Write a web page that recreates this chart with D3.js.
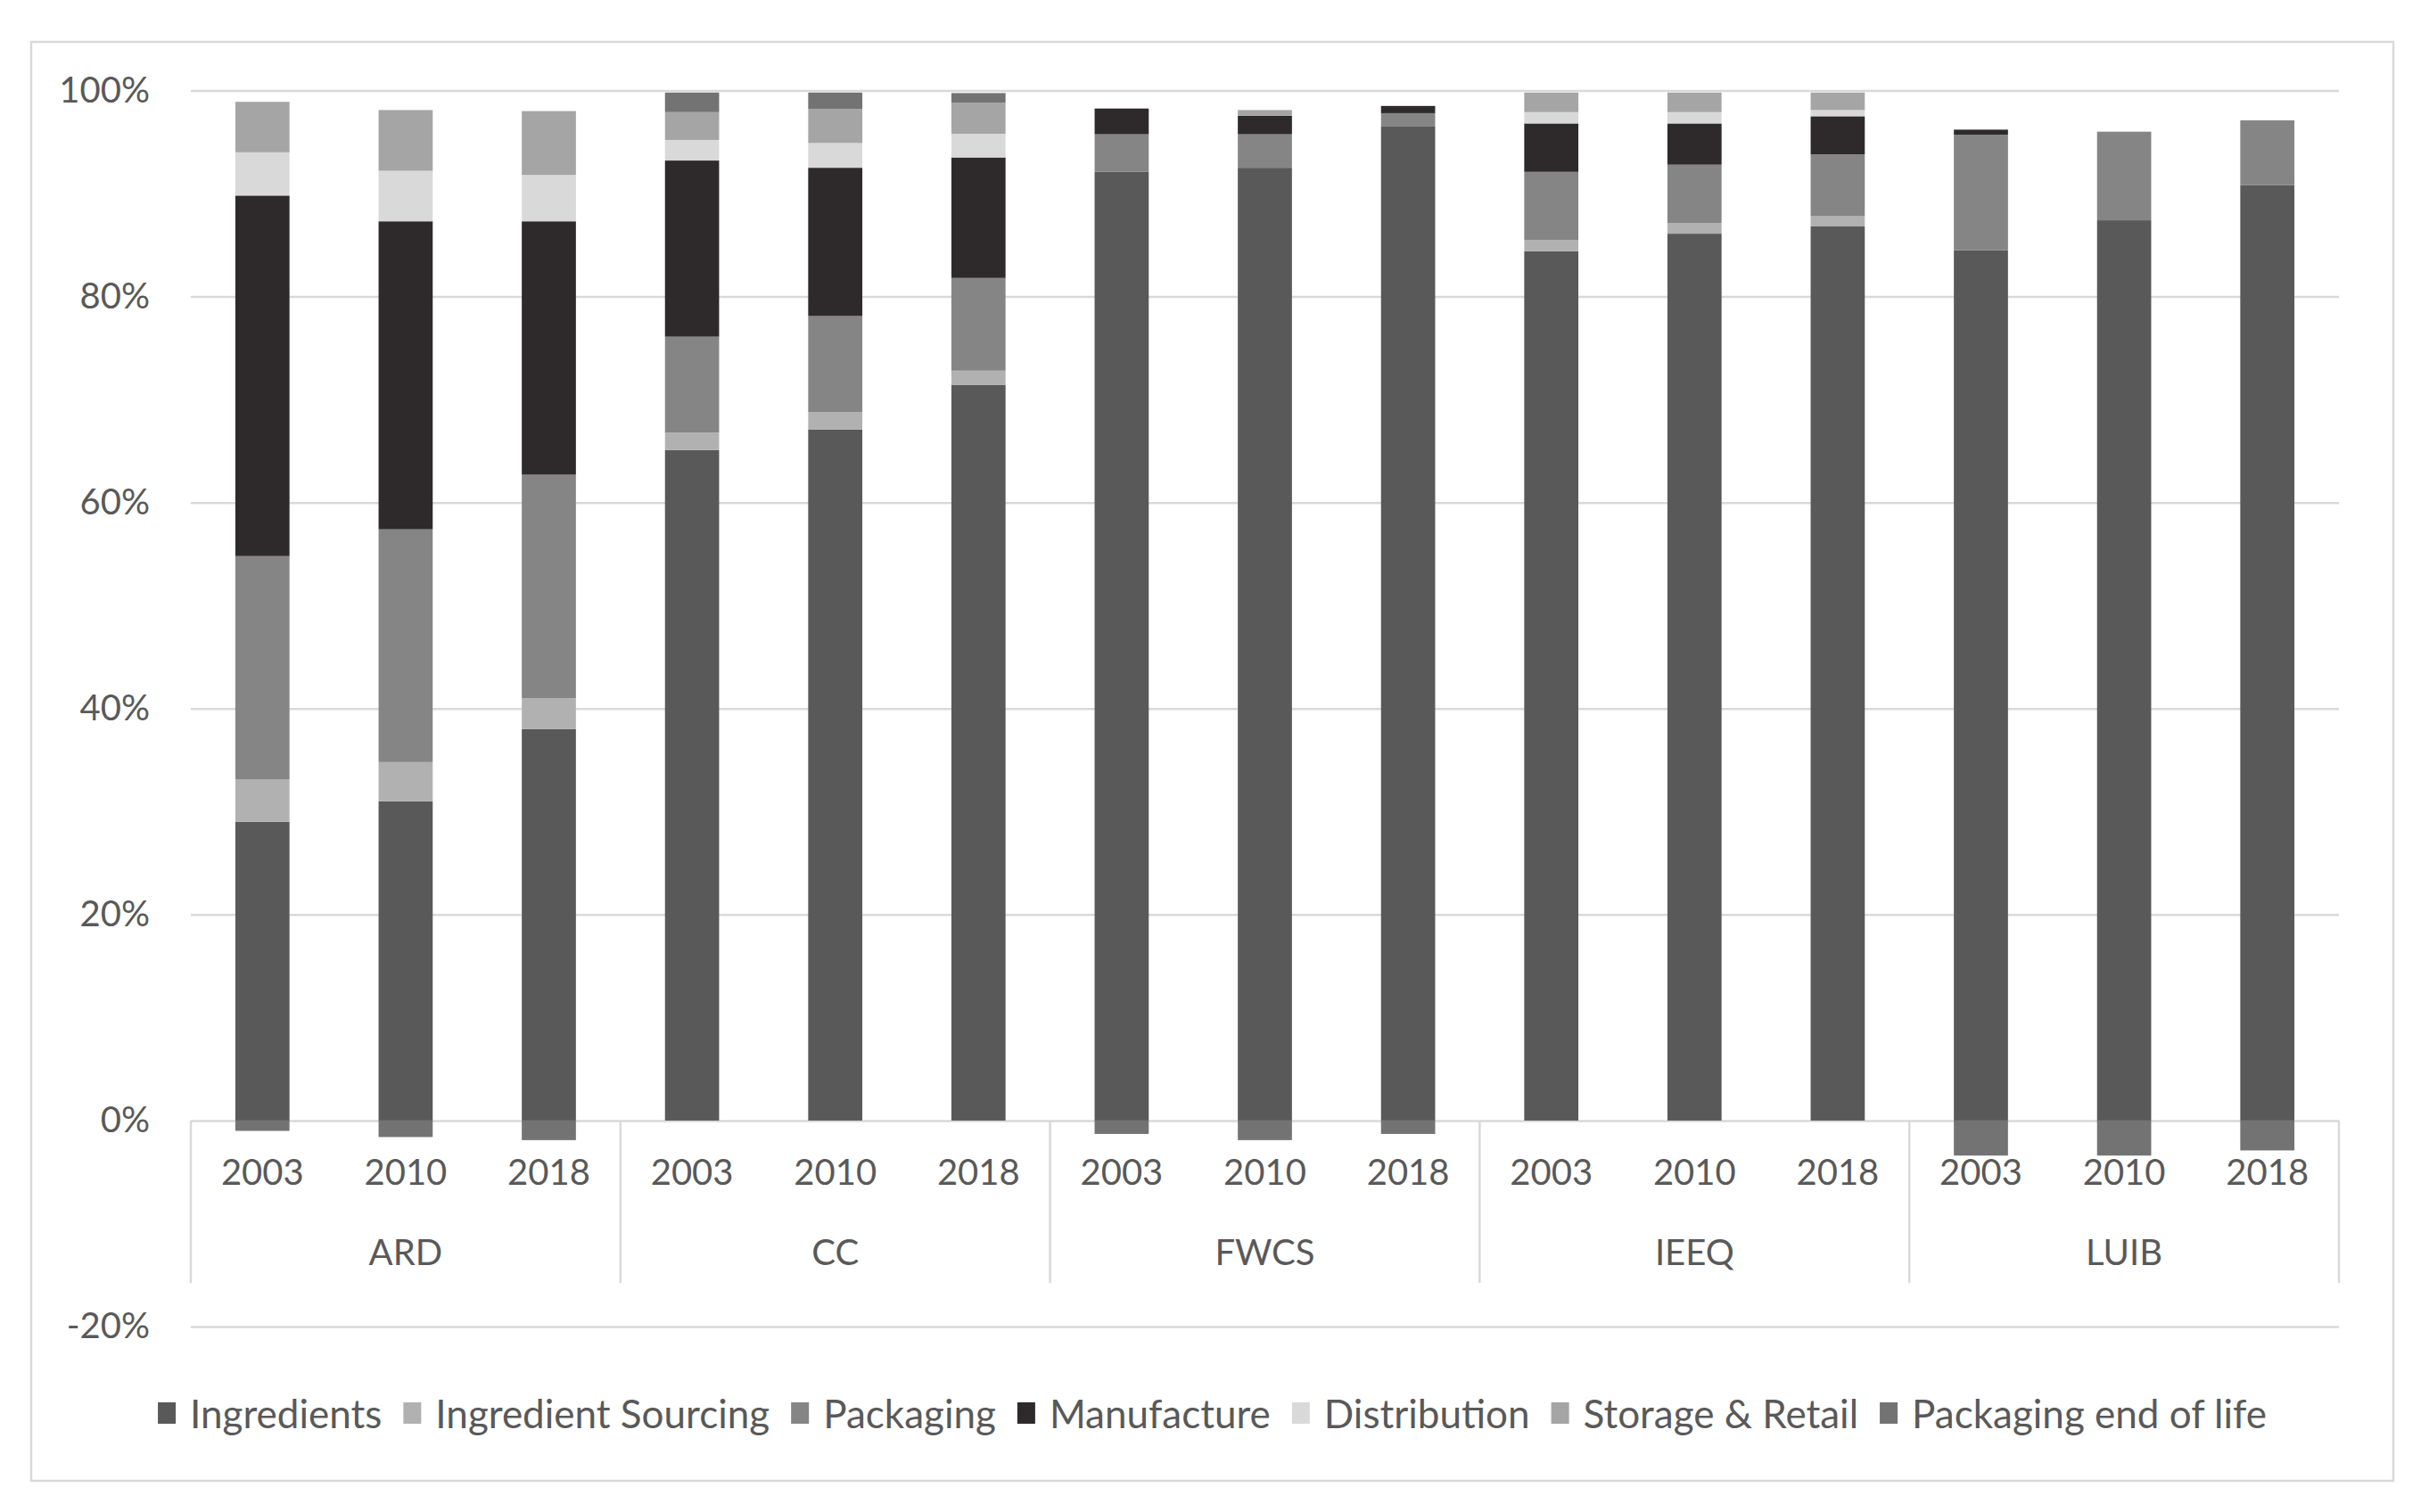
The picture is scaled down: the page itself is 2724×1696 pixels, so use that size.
<!DOCTYPE html>
<html>
<head>
<meta charset="utf-8">
<script src="https://cdn.jsdelivr.net/npm/d3@7"></script>
<style>
  html, body { margin: 0; padding: 0; background: #fff; }
  svg { display: block; }
  text { font-family: Lato, "Open Sans", sans-serif; fill: #595959; }
</style>
</head>
<body>
<div id="chart"></div>
<script>
// ── data (share of impact, %) ─────────────────────────────────────────────
const groups = ["ARD", "CC", "FWCS", "IEEQ", "LUIB"];
const years  = ["2003", "2010", "2018"];
const seriesNames = ["Ingredients", "Ingredient Sourcing", "Packaging", "Manufacture",
                     "Distribution", "Storage & Retail", "Packaging end of life"];

// one value per bar: ARD 03/10/18, CC 03/10/18, FWCS ..., IEEQ ..., LUIB ...
const ingredients        = [29.0, 31.0, 38.0, 65.1, 67.1, 71.4, 92.1, 92.5, 96.5, 84.4, 86.1, 86.8, 84.5, 87.4, 90.8];
const ingredientSourcing = [ 4.1,  3.8,  3.0,  1.7,  1.7,  1.4,  0,    0,    0,    1.1,  1.05, 1.0,  0,    0,    0  ];
const packaging          = [21.7, 22.6, 21.7,  9.3,  9.3,  9.0,  3.65, 3.25, 1.3,  6.6,  5.65, 6.0, 11.2,  8.6,  6.3];
const manufacture        = [35.0, 29.9, 24.6, 17.1, 14.4, 11.7,  2.5,  1.8,  0.7,  4.7,  4.0,  3.7,  0.5,  0,    0  ];
const distribution       = [ 4.2,  4.9,  4.5,  2.0,  2.4,  2.3,  0,    0,    0,    1.1,  1.1,  0.6,  0,    0,    0  ];
const storageRetail      = [ 4.9,  5.9,  6.2,  2.7,  3.3,  3.0,  0,    0.55, 0,    1.9,  1.9,  1.7,  0,    0,    0  ];
const packagingEol       = [-1.0, -1.6, -1.9,  1.9,  1.6,  0.95,-1.3, -1.9, -1.3,  0,    0,    0,   -3.4, -3.4, -2.9];

const yTicks = [-20, 0, 20, 40, 60, 80, 100];

const seriesValues = [ingredients, ingredientSourcing, packaging, manufacture,
                      distribution, storageRetail, packagingEol];
const colors = ["#595959", "#b1b1b1", "#858585", "#2e2a2b", "#d9d9d9", "#a5a5a5", "#737373"];

// ── build rows for the stack ──────────────────────────────────────────────
const rows = [];
groups.forEach((g, gi) => {
  years.forEach((yr, yi) => {
    const i = gi * years.length + yi;
    const row = { key: g + "-" + yr, group: g, year: yr };
    seriesNames.forEach((s, si) => (row[s] = seriesValues[si][i]));
    rows.push(row);
  });
});

const W = 2724, H = 1696;
const plot = { left: 214, right: 2623, top: 101.5, bottom: 1488 };

const svg = d3.select("#chart").append("svg")
  .attr("width", W).attr("height", H);

svg.append("rect").attr("width", W).attr("height", H).attr("fill", "#fff");

// chart border
svg.append("rect")
  .attr("x", 35).attr("y", 47).attr("width", 2649).attr("height", 1614)
  .attr("fill", "none").attr("stroke", "#d9d9d9").attr("stroke-width", 2.5);

const x = d3.scaleBand()
  .domain(rows.map(d => d.key))
  .range([plot.left, plot.right])
  .padding(0);
const barW = x.bandwidth() * 0.378;

const y = d3.scaleLinear()
  .domain([-20, 100])
  .range([plot.bottom, plot.top]);

// ── gridlines + y labels ──
const yAxis = d3.axisLeft(y)
  .tickValues(yTicks)
  .tickSize(-(plot.right - plot.left))
  .tickPadding(46)
  .tickFormat(d => d + "%");

const gy = svg.append("g")
  .attr("transform", `translate(${plot.left},0)`)
  .call(yAxis);
gy.select(".domain").remove();
gy.selectAll(".tick line").attr("stroke", "#d9d9d9").attr("stroke-width", 2.5);
gy.selectAll(".tick text")
  .attr("font-size", 40)
  .style("font-family", "Lato, sans-serif")
  .attr("fill", "#595959");

// ── stacked bars ──
const stack = d3.stack()
  .keys(seriesNames)
  .offset(d3.stackOffsetDiverging);
const layers = stack(rows);

svg.append("g").selectAll("g")
  .data(layers)
  .join("g")
  .attr("fill", (d, i) => colors[i])
  .selectAll("rect")
  .data(d => d.filter(p => p[1] !== p[0]))
  .join("rect")
  .attr("x", d => x(d.data.key) + (x.bandwidth() - barW) / 2)
  .attr("width", barW)
  .attr("y", d => y(Math.max(d[0], d[1])))
  .attr("height", d => Math.abs(y(d[0]) - y(d[1])));

// ── multi-level category axis ──
const axisG = svg.append("g");
const y0 = y(0);
const sepBottom = 1439;

// separators between groups
const sepX = groups.map((g, gi) => x(g + "-" + years[0]));
sepX.push(plot.right);
axisG.selectAll("line.sep")
  .data(sepX)
  .join("line")
  .attr("class", "sep")
  .attr("x1", d => d).attr("x2", d => d)
  .attr("y1", y0).attr("y2", sepBottom)
  .attr("stroke", "#d9d9d9").attr("stroke-width", 2.5);

// year labels
axisG.selectAll("text.year")
  .data(rows)
  .join("text")
  .attr("class", "year")
  .attr("x", d => x(d.key) + x.bandwidth() / 2)
  .attr("y", 1314)
  .attr("text-anchor", "middle")
  .attr("dominant-baseline", "central")
  .attr("font-size", 40)
  .text(d => d.year);

// group labels
axisG.selectAll("text.grp")
  .data(groups)
  .join("text")
  .attr("class", "grp")
  .attr("x", g => {
    const a = x(g + "-" + years[0]);
    const b = x(g + "-" + years[years.length - 1]) + x.bandwidth();
    return (a + b) / 2;
  })
  .attr("y", 1404)
  .attr("text-anchor", "middle")
  .attr("dominant-baseline", "central")
  .attr("font-size", 40)
  .text(g => g);

// ── legend ──
const legend = svg.append("g");
const items = legend.selectAll("g")
  .data(seriesNames)
  .join("g");
items.append("rect")
  .attr("width", 20).attr("height", 24)
  .attr("y", -12)
  .attr("fill", (d, i) => colors[i]);
items.append("text")
  .attr("x", 36)
  .attr("dominant-baseline", "central")
  .attr("font-size", 44)
  .text(d => d);

let cursor = 0;
items.each(function () {
  const g = d3.select(this);
  g.attr("transform", `translate(${cursor},0)`);
  cursor += 36 + g.select("text").node().getComputedTextLength() + 24;
});
const legendW = cursor - 24;
legend.attr("transform", `translate(${(35 + 2684) / 2 - legendW / 2},1585)`);
</script>
</body>
</html>
